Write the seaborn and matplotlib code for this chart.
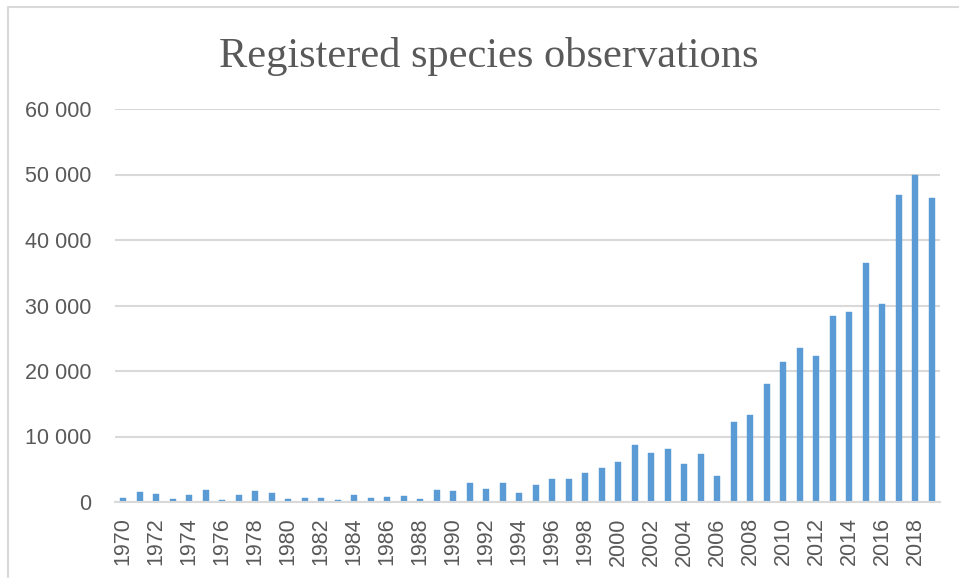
import matplotlib
matplotlib.use("Agg")
import matplotlib.pyplot as plt
from matplotlib.lines import Line2D
from matplotlib.ticker import FuncFormatter, MultipleLocator
import seaborn as sns
import pandas as pd

years = list(range(1970, 2020))
observations = [
    670, 1530, 1220, 520, 1070, 1890, 300, 1070, 1630, 1430,
    460, 610, 610, 370, 1070, 560, 820, 920, 460, 1830,
    1620, 2900, 2030, 2950, 1420, 2640, 3560, 3520, 4430, 5240,
    6110, 8750, 7420, 8140, 5800, 7370, 4020, 12210, 13220, 18060,
    21380, 23530, 22250, 28470, 29080, 36490, 30210, 46940, 49850, 46380,
]
title = "Registered species observations"

df = pd.DataFrame({"year": [str(y) for y in years], "count": observations})

W, H = 959, 578
sns.set_theme(style="white")
plt.rcParams["font.family"] = ["Liberation Sans", "DejaVu Sans"]

fig = plt.figure(figsize=(W / 100, H / 100), dpi=100)
fig.patch.set_facecolor("white")
ax = fig.add_axes([115 / W, (H - 502) / H, (940 - 115) / W, (502 - 109) / H])

sns.barplot(data=df, x="year", y="count", color="#5B9BD5", saturation=1,
            width=0.38, ax=ax, order=df["year"],
            edgecolor="#5B9BD5", linewidth=0.3)

ax.set_xlim(-0.5, len(years) - 0.5)
ax.set_ylim(0, 60000)
ax.yaxis.set_major_locator(MultipleLocator(10000))
ax.yaxis.set_major_formatter(
    FuncFormatter(lambda v, p: f"{int(v):,}".replace(",", " ")))
ax.grid(axis="y", color="#d9d9d9", linewidth=1.5)
ax.set_axisbelow(True)
for side in ("top", "right", "left"):
    ax.spines[side].set_visible(False)
ax.spines["bottom"].set_color("#d9d9d9")
ax.spines["bottom"].set_linewidth(1.5)

ax.set_xticks(range(0, len(years), 2))
ax.set_xticklabels([str(y) for y in years[::2]], rotation=90)
ax.tick_params(axis="x", length=0, pad=11, labelsize=15.5, labelcolor="#595959")
ax.tick_params(axis="y", length=0, pad=17, labelsize=15.5, labelcolor="#595959")
ax.set_xlabel("")
ax.set_ylabel("")

fig.text(489 / W, 1 - 67 / H, title, ha="center", va="baseline",
         fontsize=30.5, color="#595959", family=["Liberation Serif", "DejaVu Serif"])

# chart frame (top and left edges)
fig.add_artist(Line2D([8 / W, 1], [1 - 7 / H, 1 - 7 / H], transform=fig.transFigure,
                      color="#d9d9d9", linewidth=1.5))
fig.add_artist(Line2D([8 / W, 8 / W], [0, 1 - 7 / H], transform=fig.transFigure,
                      color="#d9d9d9", linewidth=1.5))

fig.savefig("out.png", dpi=100, facecolor="white")
